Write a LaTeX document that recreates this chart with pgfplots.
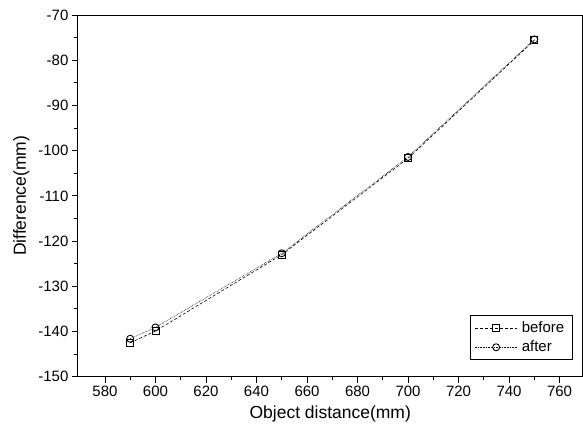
\documentclass[border=0pt]{standalone}
\usepackage{pgfplots}
\pgfplotsset{compat=1.18}
\usepackage{fontspec}
\setmainfont{Liberation Sans}

\begin{document}
\begin{tikzpicture}
\begin{axis}[
    name=main,
    scale only axis,
    width=505pt, height=362pt,
    xmin=569.3, xmax=769.1, ymin=-150, ymax=-70,
    xtick={580,600,...,760}, ytick={-150,-140,...,-70},
    minor x tick num=1, minor y tick num=1,
    tick align=outside, tick pos=left,
    major tick length=6pt, minor tick length=3.5pt,
    tick style={black, line width=0.8pt},
    axis line style={line width=0.9pt},
    tick label style={font=\fontsize{15}{17}\selectfont},
    label style={font=\fontsize{17.5}{20}\selectfont},
    xlabel={Object distance(mm)}, ylabel={Difference(mm)},
    ylabel shift=2pt, xlabel shift=2pt,
    /pgf/number format/assume math mode=true,
    legend style={font=\fontsize{15}{17}\selectfont, at={(1,0)}, anchor=south east,
        xshift=-10pt, yshift=17pt,
        draw=black, line width=0.6pt, inner xsep=4pt, inner ysep=4pt,
        row sep=3pt, fill=white,
        nodes={inner xsep=4pt}},
    legend cell align=left,
    legend image code/.code={
        \draw[mark repeat=2, mark phase=2, #1]
            plot coordinates {(0cm,0cm) (0.75cm,0cm) (1.5cm,0cm)};
    },
]
\addplot[black, line width=0.6pt, densely dashed, mark=square, mark size=3.5pt,
    mark options={solid, line width=0.9pt}] coordinates {
    (590,-142.5) (600,-139.9) (650,-123.0) (700,-101.7) (750,-75.6)
};
\addlegendentry{before}
\addplot[black, line width=0.6pt, densely dotted, mark=o, mark size=3.5pt,
    mark options={solid, line width=0.9pt}] coordinates {
    (590,-141.6) (600,-139.1) (650,-122.7) (700,-101.4) (750,-75.4)
};
\addlegendentry{after}
\end{axis}
\path ([xshift=-78pt, yshift=-57pt]main.south west) ([yshift=15pt]main.north east);
\end{tikzpicture}
\end{document}
